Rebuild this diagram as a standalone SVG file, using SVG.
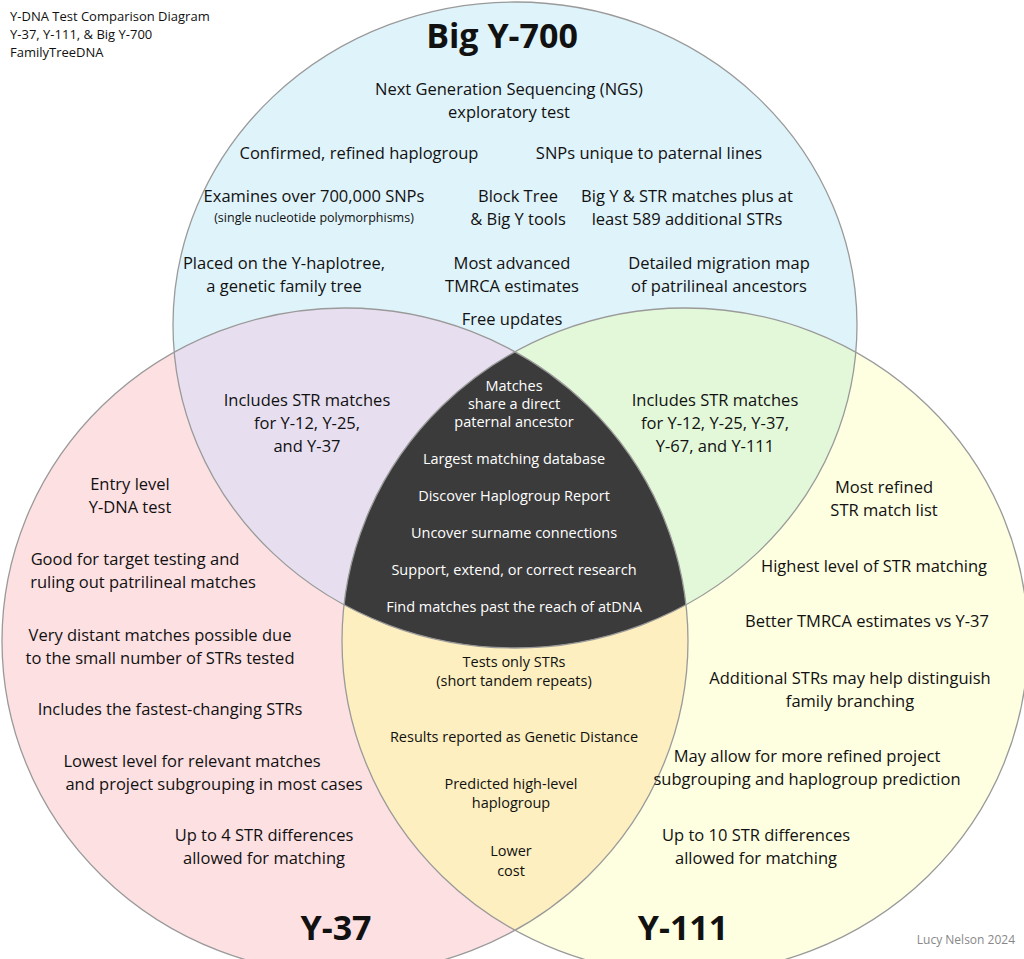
<svg xmlns="http://www.w3.org/2000/svg" width="1024" height="959" viewBox="0 0 1024 959">
<style>
text{font-family:"Open Sans","Liberation Sans",sans-serif;font-size:16.5px;fill:#111;text-anchor:middle}
.w{fill:#fff;font-size:14.5px}
.s{font-size:12.5px}
.c{font-size:14.5px}
.t{font-size:34px;font-weight:bold}
.h{text-anchor:start;font-size:13px}
.g{font-size:12px;fill:#888;text-anchor:end}
.e{fill:none;stroke:#9a9a9a;stroke-width:1.3}
</style>
<defs>
<clipPath id="cT"><ellipse cx="515" cy="325" rx="342" ry="323"/></clipPath>
<clipPath id="cL"><ellipse cx="345" cy="641" rx="343" ry="333"/></clipPath>
<clipPath id="cR"><ellipse cx="685" cy="641" rx="343" ry="333"/></clipPath>
</defs>
<rect width="1024" height="959" fill="#fff"/>
<ellipse cx="515" cy="325" rx="342" ry="323" fill="#dff3fa"/>
<ellipse cx="345" cy="641" rx="343" ry="333" fill="#fde0e2"/>
<ellipse cx="685" cy="641" rx="343" ry="333" fill="#fefee0"/>
<g clip-path="url(#cT)"><ellipse cx="345" cy="641" rx="343" ry="333" fill="#e7dff0"/><ellipse cx="685" cy="641" rx="343" ry="333" fill="#e3f8d9"/></g>
<g clip-path="url(#cL)"><ellipse cx="685" cy="641" rx="343" ry="333" fill="#fdefbf"/></g>
<g clip-path="url(#cL)"><g clip-path="url(#cR)"><ellipse cx="515" cy="325" rx="342" ry="323" fill="#3b3b3b"/></g></g>
<ellipse class="e" cx="515" cy="325" rx="342" ry="323"/>
<ellipse class="e" cx="345" cy="641" rx="343" ry="333"/>
<ellipse class="e" cx="685" cy="641" rx="343" ry="333"/>
<text class="h" x="10" y="21">Y-DNA Test Comparison Diagram</text>
<text class="h" x="10" y="39">Y-37, Y-111, &amp; Big Y-700</text>
<text class="h" x="10" y="57">FamilyTreeDNA</text>
<text class="t" x="502" y="48">Big Y-700</text>
<text x="509" y="95">Next Generation Sequencing (NGS)</text>
<text x="509" y="118">exploratory test</text>
<text x="359" y="159">Confirmed, refined haplogroup</text>
<text x="649" y="159">SNPs unique to paternal lines</text>
<text x="314" y="202">Examines over 700,000 SNPs</text>
<text class="s" x="314" y="222">(single nucleotide polymorphisms)</text>
<text x="518" y="202">Block Tree</text>
<text x="518" y="225">&amp; Big Y tools</text>
<text x="687" y="202">Big Y &amp; STR matches plus at</text>
<text x="687" y="225">least 589 additional STRs</text>
<text x="284" y="269">Placed on the Y-haplotree,</text>
<text x="284" y="292">a genetic family tree</text>
<text x="512" y="269">Most advanced</text>
<text x="512" y="292">TMRCA estimates</text>
<text x="719" y="269">Detailed migration map</text>
<text x="719" y="292">of patrilineal ancestors</text>
<text x="512" y="325">Free updates</text>
<text x="307" y="406">Includes STR matches</text>
<text x="307" y="429">for Y-12, Y-25,</text>
<text x="307" y="452">and Y-37</text>
<text x="715" y="406">Includes STR matches</text>
<text x="715" y="429">for Y-12, Y-25, Y-37,</text>
<text x="715" y="452">Y-67, and Y-111</text>
<text class="w" x="514" y="391">Matches</text>
<text class="w" x="514" y="409">share a direct</text>
<text class="w" x="514" y="427">paternal ancestor</text>
<text class="w" x="514" y="464">Largest matching database</text>
<text class="w" x="514" y="501">Discover Haplogroup Report</text>
<text class="w" x="514" y="538">Uncover surname connections</text>
<text class="w" x="514" y="575">Support, extend, or correct research</text>
<text class="w" x="514" y="612">Find matches past the reach of atDNA</text>
<text x="130" y="490">Entry level</text>
<text x="130" y="513">Y-DNA test</text>
<text x="135" y="565">Good for target testing and</text>
<text x="143" y="588">ruling out patrilineal matches</text>
<text x="160" y="641">Very distant matches possible due</text>
<text x="160" y="664">to the small number of STRs tested</text>
<text x="170" y="715">Includes the fastest-changing STRs</text>
<text x="192" y="767">Lowest level for relevant matches</text>
<text x="214" y="790">and project subgrouping in most cases</text>
<text x="264" y="841">Up to 4 STR differences</text>
<text x="264" y="864">allowed for matching</text>
<text class="t" x="336" y="940">Y-37</text>
<text x="884" y="493">Most refined</text>
<text x="884" y="516">STR match list</text>
<text x="874" y="572">Highest level of STR matching</text>
<text x="867" y="627">Better TMRCA estimates vs Y-37</text>
<text x="850" y="684">Additional STRs may help distinguish</text>
<text x="850" y="707">family branching</text>
<text x="807" y="762">May allow for more refined project</text>
<text x="807" y="785">subgrouping and haplogroup prediction</text>
<text x="756" y="841">Up to 10 STR differences</text>
<text x="756" y="864">allowed for matching</text>
<text class="t" x="683" y="940">Y-111</text>
<text class="c" x="514" y="667">Tests only STRs</text>
<text class="c" x="514" y="686">(short tandem repeats)</text>
<text class="c" x="514" y="742">Results reported as Genetic Distance</text>
<text class="c" x="511" y="789">Predicted high-level</text>
<text class="c" x="511" y="808">haplogroup</text>
<text class="c" x="511" y="856">Lower</text>
<text class="c" x="511" y="876">cost</text>
<text class="g" x="1015" y="944">Lucy Nelson 2024</text>
</svg>
